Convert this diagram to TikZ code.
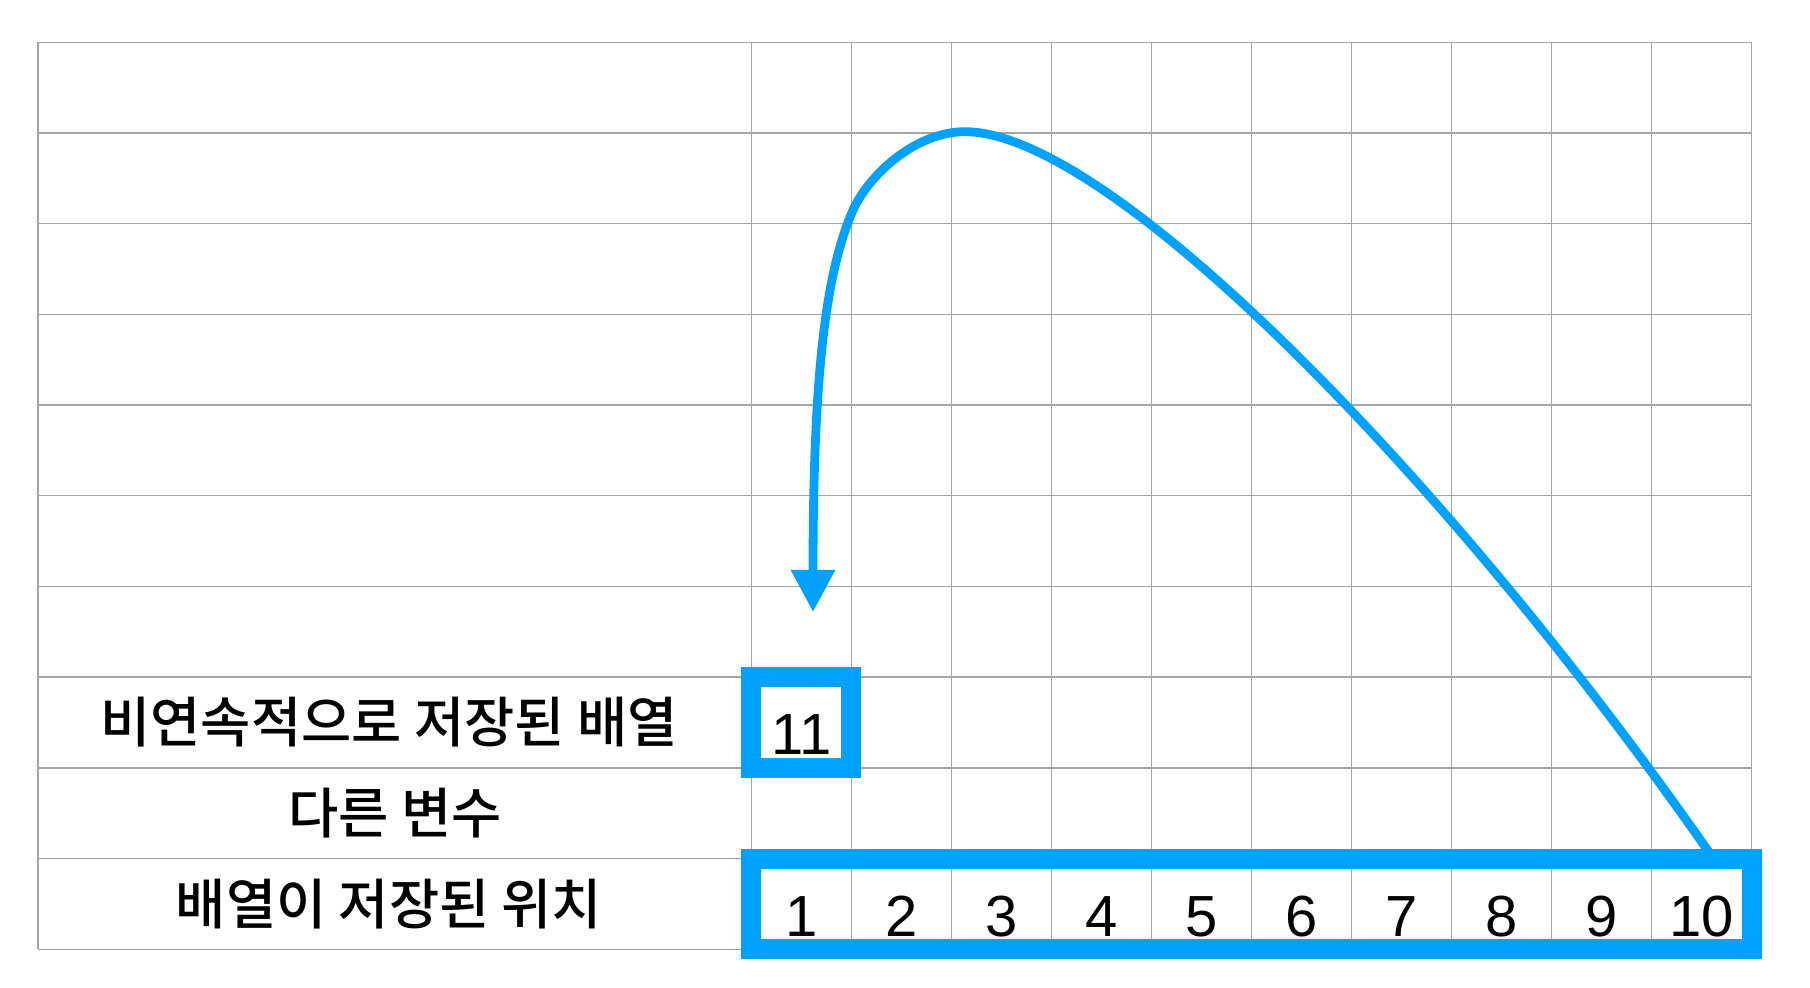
\documentclass[tikz,border=0pt]{standalone}
\usepackage{fontspec}
\setmainfont{Liberation Sans}
\newfontfamily\krfont{Noto Sans CJK KR Medium}
\usetikzlibrary{arrows.meta}
\definecolor{arrblue}{RGB}{0,162,255}
\definecolor{gridgray}{RGB}{166,166,166}
\begin{document}
\begin{tikzpicture}[x=0.5pt,y=-0.5pt,
  gridline/.style={draw=gridgray, line width=0.7pt},
  bluebox/.style={draw=arrblue, line width=10pt, minimum width=50pt, minimum height=45.35pt, inner sep=0pt},
  num/.style={anchor=base, font=\fontsize{29}{30}\selectfont, inner sep=0pt},
  rowlabel/.style={font=\krfont\fontsize{27.3}{28}\selectfont, inner sep=0pt},
  link/.style={draw=arrblue, line width=4.4pt, -{Triangle[length=21pt,width=21pt]}}]
\fill[white] (0,0) rectangle (1810,988);
\useasboundingbox (0,0) rectangle (1810,988);
% grid
\foreach \k in {0,...,10}
  \draw[gridline] (38,{42.3+90.7*\k}) -- (1751.7,{42.3+90.7*\k});
\draw[gridline] (38,42.3) -- (38,949.3);
\foreach \j in {0,...,10}
  \draw[gridline] ({751.3+100.04*\j},42.3) -- ({751.3+100.04*\j},949.3);
% row labels
\node[rowlabel] (l1) at (389,722.5) {비연속적으로 저장된 배열};
\node[rowlabel] (l2) at (395,813.2) {다른 변수};
\node[rowlabel] (l3) at (389,903.9) {배열이 저장된 위치};
% arrow
\coordinate (src) at (1713,858);
\coordinate (peak) at (965,131.7);
\coordinate (bend) at (851.7,213);
\coordinate (dst) at (813,612);
\draw[link] (src) .. controls (1450,480) and (1110,131.7) .. (peak)
  .. controls (915,131.7) and (867,176) .. (bend)
  .. controls (828,270) and (813,360) .. (dst);
% boxes
\node[bluebox] (box11) at (801.3,722.5) {};
\node[bluebox, minimum width=500.2pt] (rowbox) at (1251.5,903.95) {};
% numbers
\foreach \i in {1,...,10}
  \node[num] (n\i) at ({701.3+100.04*\i},936) {\i};
\node[num] (n11) at (801.3,754.3) {11};
\end{tikzpicture}
\end{document}
